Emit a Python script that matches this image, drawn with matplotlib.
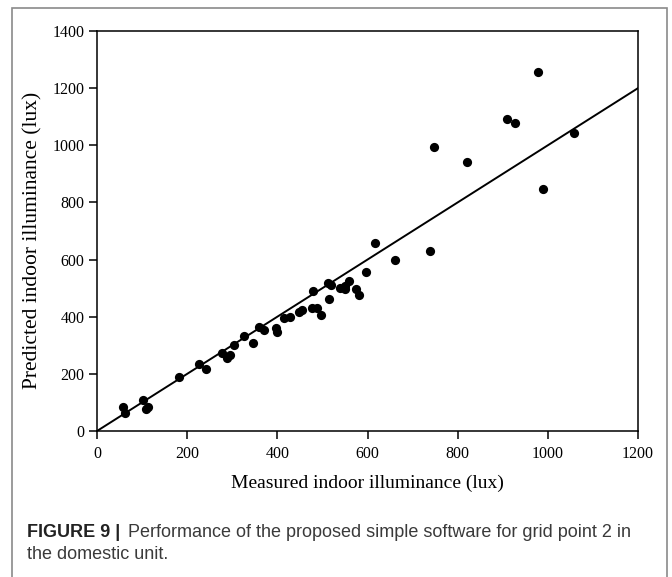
import matplotlib.pyplot as plt
from matplotlib.patches import Rectangle


# measured vs predicted indoor illuminance (lux), grid point 2
measured = [58, 62, 101, 114, 109, 181, 227, 242, 278, 288, 296, 303, 325, 346,
            360, 370, 397, 399, 414, 429, 449, 455, 477, 487, 496, 479, 512, 519,
            514, 540, 549, 551, 560, 575, 581, 596, 616, 661,
            738, 748, 820, 909, 927, 979, 989, 1057]
predicted = [85, 62, 108, 85, 76, 190, 233, 216, 274, 254, 266, 301, 334, 307,
             363, 354, 359, 348, 394, 398, 415, 424, 429, 429, 406, 491, 517, 511,
             462, 499, 496, 509, 525, 496, 476, 558, 659, 599,
             631, 994, 940, 1092, 1077, 1258, 846, 1044]

# 1:1 line
line_x = [0, 1200]
line_y = [0, 1200]

x_ticks = [0, 200, 400, 600, 800, 1000, 1200]
y_ticks = [0, 200, 400, 600, 800, 1000, 1200, 1400]

SERIF = "Liberation Serif"
SANS = "Liberation Sans"
W, H = 672, 577


def fx(px):
    return px / W


def fy(py):
    return 1 - py / H


def main():
    fig = plt.figure(figsize=(W / 100, H / 100), dpi=100)

    # grey frame around figure + caption (open at the bottom)
    fig.patches.append(Rectangle((fx(12), -0.05), fx(655), 1.05 - 8 / H,
                                 transform=fig.transFigure, fill=False,
                                 edgecolor="#8a8a8a", linewidth=1.2))

    ax = fig.add_axes([fx(97), fy(431), fx(541), 400 / H])
    ax.plot(line_x, line_y, color="black", linewidth=1.4, zorder=2)
    ax.scatter(measured, predicted, s=44, color="black", zorder=3, linewidths=0)

    ax.set_xlim(0, 1200)
    ax.set_ylim(0, 1400)
    ax.set_xticks(x_ticks)
    ax.set_yticks(y_ticks)
    ax.tick_params(direction="out", length=5.5, width=1.1, top=False, right=False)
    ax.tick_params(axis="x", pad=5.5)
    ax.tick_params(axis="y", pad=3.5)
    for lab in ax.get_xticklabels() + ax.get_yticklabels():
        lab.set_fontfamily(SERIF)
        lab.set_fontsize(11.5)
    for sp in ax.spines.values():
        sp.set_linewidth(1.1)

    fig.text(fx(367.5), fy(488), "Measured indoor illuminance (lux)",
             fontfamily=SERIF, fontsize=14, ha="center", va="baseline")
    fig.text(fx(33), fy(240), "Predicted indoor illuminance (lux)",
             fontfamily=SERIF, fontsize=15.5, ha="center", va="center",
             rotation=90)

    # caption
    fig.text(fx(27), fy(537), "FIGURE 9 |", fontfamily=SANS,
             fontweight="bold", fontsize=13, color="#222222", va="baseline")
    fig.text(fx(128), fy(537),
             "Performance of the proposed simple software for grid point 2 in",
             fontfamily=SANS, fontsize=13, color="#3a3a3a", va="baseline")
    fig.text(fx(27), fy(559), "the domestic unit.", fontfamily=SANS,
             fontsize=13, color="#3a3a3a", va="baseline")

    fig.savefig("out.png", dpi=100)
    plt.close(fig)


if __name__ == "__main__":
    main()
